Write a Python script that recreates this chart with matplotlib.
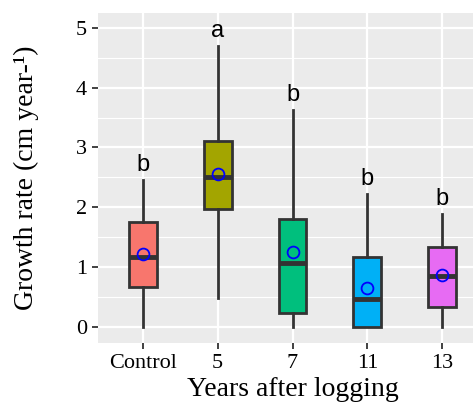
import matplotlib
matplotlib.use("Agg")
import matplotlib.pyplot as plt
from matplotlib.ticker import MultipleLocator

# data
groups = ["Control", "5", "7", "11", "13"]
whisker_low = [0.0, 0.49, 0.0, 0.0, 0.0]
q1 = [0.67, 1.97, 0.23, 0.0, 0.34]
medians = [1.17, 2.51, 1.06, 0.46, 0.85]
q3 = [1.76, 3.11, 1.80, 1.17, 1.34]
whisker_high = [2.46, 4.70, 3.63, 2.22, 1.88]
means = [1.22, 2.56, 1.25, 0.65, 0.87]
letters = ["b", "a", "b", "b", "b"]
colors = ["#F8766D", "#A3A500", "#00BF7D", "#00B0F6", "#E76BF3"]

fig = plt.figure(figsize=(4.73, 4.03), dpi=100)
ax = fig.add_axes([0.2072, 0.1489, 0.8224, 0.8189])
ax.set_facecolor("#EBEBEB")

stats = []
for i, g in enumerate(groups):
    stats.append(dict(label=g, whislo=whisker_low[i], q1=q1[i], med=medians[i],
                      q3=q3[i], whishi=whisker_high[i], fliers=[]))

pos = list(range(len(groups)))
bp = ax.bxp(stats, positions=pos, widths=0.37, patch_artist=True, showcaps=False,
            boxprops=dict(edgecolor="#333333", linewidth=2),
            whiskerprops=dict(color="#333333", linewidth=2),
            medianprops=dict(color="#333333", linewidth=3.5), zorder=3)
for patch, c in zip(bp["boxes"], colors):
    patch.set_facecolor(c)

ax.plot(pos, means, linestyle="none", marker="o", markersize=8.5,
        markerfacecolor="none", markeredgecolor="blue", markeredgewidth=1.3, zorder=4)

for i, lab in enumerate(letters):
    ax.text(pos[i], whisker_high[i] + 0.07, lab, ha="center", va="bottom",
            fontsize=17, family="Liberation Sans", color="black")

ax.set_xlim(-0.6, 4.6)
ax.set_ylim(-0.27, 5.25)
ax.yaxis.set_major_locator(MultipleLocator(1))
ax.yaxis.set_minor_locator(MultipleLocator(0.5))
ax.set_xticks(pos)
ax.set_xticklabels(groups)

ax.grid(which="major", color="white", linewidth=1.6, zorder=0)
ax.grid(which="minor", axis="y", color="white", linewidth=0.8, zorder=0)
ax.set_axisbelow(True)
for s in ax.spines.values():
    s.set_visible(False)

ax.tick_params(axis="both", which="major", length=4, width=1.3, color="#333333",
               labelsize=16, labelcolor="black", pad=4)
ax.tick_params(axis="both", which="minor", length=0)
for t in ax.get_xticklabels() + ax.get_yticklabels():
    t.set_family("Liberation Serif")

ax.set_xlabel("Years after logging", family="Liberation Serif", fontsize=20, va="center")
ax.set_ylabel("Growth rate (cm year-¹)", family="Liberation Serif", fontsize=20, va="center")
ax.xaxis.set_label_coords(0.5, -0.142)
ax.yaxis.set_label_coords(-0.185, 0.5)

fig.savefig("out.png", dpi=100)
